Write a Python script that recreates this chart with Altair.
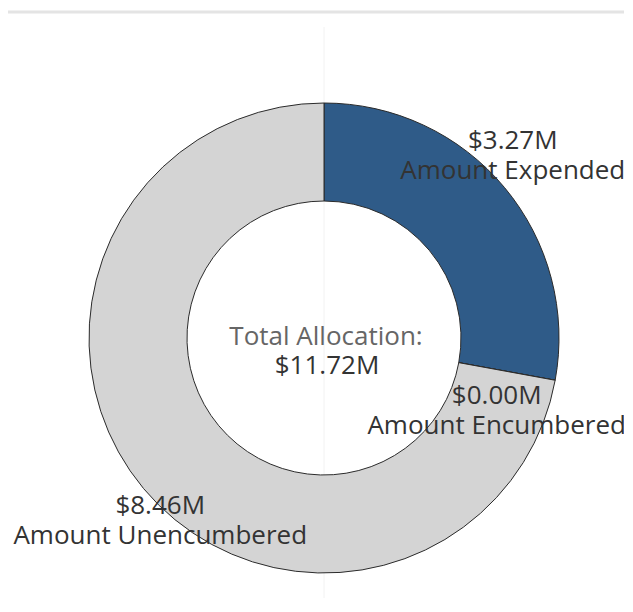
import altair as alt
import pandas as pd

categories = ["Amount Expended", "Amount Encumbered", "Amount Unencumbered"]
values = [3.27, 0.00, 8.46]
value_labels = ["$3.27M", "$0.00M", "$8.46M"]
total_title = "Total Allocation:"
total_value = "$11.72M"
colors = ["#2f5b88", "#d4d4d4", "#d4d4d4"]

df = pd.DataFrame({
    "category": categories,
    "value": values,
    "order": list(range(len(categories))),
    "label": [v + "\n" + c for v, c in zip(value_labels, categories)],
})

W, H = 600, 520
FONT = "Open Sans"
FS = 26

base = alt.Chart(df)

arcs = base.mark_arc(outerRadius=235, innerRadius=137, stroke="#2b2b2b", strokeWidth=1).encode(
    theta=alt.Theta("value:Q", stack=True),
    order=alt.Order("order:Q"),
    color=alt.Color("category:N", scale=alt.Scale(domain=categories, range=colors), legend=None),
)

def label_layer(cat, dx, dy):
    return base.mark_text(
        font=FONT, fontSize=FS, color="#333333", lineBreak="\n", lineHeight=30,
        align="center", baseline="middle", dx=dx, dy=dy,
    ).encode(
        theta=alt.Theta("value:Q", stack=True),
        order=alt.Order("order:Q"),
        radius=alt.value(264),
        text=alt.condition(alt.datum.category == cat, alt.Text("label:N"), alt.value("")),
    )

lab1 = label_layer(categories[0], -14, -28)
lab2 = label_layer(categories[1], -87, 11)
lab3 = label_layer(categories[2], 39, -1)

center1 = alt.Chart(pd.DataFrame({"t": [total_title]})).mark_text(
    font=FONT, fontSize=FS, color="#666666", align="center", baseline="middle"
).encode(text="t:N", x=alt.value(W / 2 + 2), y=alt.value(H / 2 - 1))

center2 = alt.Chart(pd.DataFrame({"t": [total_value]})).mark_text(
    font=FONT, fontSize=FS, color="#333333", align="center", baseline="middle"
).encode(text="t:N", x=alt.value(W / 2 + 3), y=alt.value(H / 2 + 28))

hrule = alt.Chart(pd.DataFrame({"a": [0]})).mark_rule(color="#e4e4e4", strokeWidth=3).encode(
    x=alt.value(-16), x2=alt.value(609), y=alt.value(-66)
)
vrule = alt.Chart(pd.DataFrame({"a": [0]})).mark_rule(color="#f2f2f2", strokeWidth=1).encode(
    x=alt.value(W / 2), y=alt.value(-51), y2=alt.value(532)
)

chart = alt.layer(hrule, vrule, arcs, lab1, lab2, lab3, center1, center2).properties(
    width=W, height=H,
    padding={"left": 16, "top": 70, "right": 0, "bottom": 0},
    autosize=alt.AutoSizeParams(type="none"),
).configure_view(stroke=None)

chart.save("out.html", embed_options={"renderer": "svg", "actions": False})
